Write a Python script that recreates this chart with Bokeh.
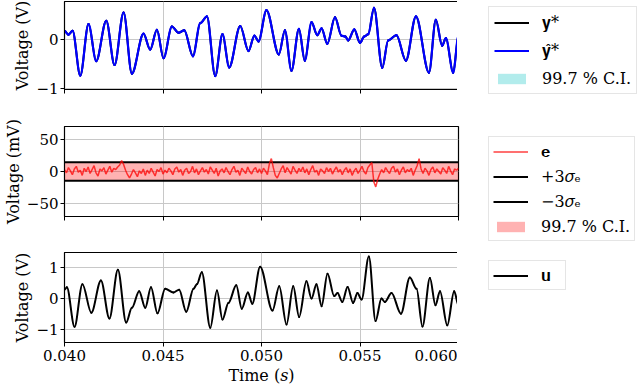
import numpy as np
from bokeh.plotting import figure
from bokeh.layouts import column, row
from bokeh.models import (Legend, LegendItem, FixedTicker, CustomJSTickFormatter,
                          Range1d)
from bokeh.embed import file_html
from bokeh.resources import INLINE

# ---------------- data ----------------
# top panel: output y* and prediction y_hat* (V)
t_y = [0.04000, 0.04020, 0.04041, 0.04080, 0.04122, 0.04161, 0.04212, 0.04254,
       0.04300, 0.04342, 0.04401, 0.04435, 0.04469, 0.04503, 0.04545, 0.04579,
       0.04608, 0.04652, 0.04689, 0.04723, 0.04765, 0.04802, 0.04836, 0.04892,
       0.04934, 0.04964, 0.04985, 0.05025, 0.05088, 0.05119, 0.05152, 0.05190,
       0.05220, 0.05254, 0.05283, 0.05305, 0.05334, 0.05373, 0.05406, 0.05426,
       0.05440, 0.05471, 0.05500, 0.05521, 0.05542, 0.05571, 0.05613, 0.05643,
       0.05685, 0.05733, 0.05784, 0.05850, 0.05885, 0.05917, 0.05936, 0.05973,
       0.06000]
y_hat = [0.19, 0.11, 0.19, -0.74, 0.33, -0.44, 0.40, -0.52,
         0.57, -0.70, 0.13, -0.20, 0.21, -0.38, 0.28, 0.15,
         0.20, -0.34, 0.35, 0.49, -0.75, 0.12, -0.57, 0.29,
         -0.23, 0.09, -0.03, 0.62, -0.30, 0.20, -0.64, 0.23,
         -0.43, 0.37, 0.10, 0.24, -0.08, 0.47, 0.09, 0.07,
         -0.01, 0.22, -0.06, 0.07, 0.12, 0.67, -0.58, -0.01,
         0.10, -0.43, 0.49, -0.68, 0.42, -0.12, 0.04, -0.68,
         0.09]
y_true = list(y_hat)          # indistinguishable from y_hat* at this scale
ci_half_top = 0.02            # 99.7 % C.I. half width (V), hidden under the line

# middle panel: prediction error e (mV), regular sampling
e_mv = [3, -2, 6, 1, -5, 4, 8, -1, 2, -6, 5, 0, 7, -3, 3, 9, -2, -7, 4, 1,
        6, -4, 2, 8, -1, 5, 3, 7, 10, 17, 11, 2, -5, -10, -4, 3, -2, -8, 1, -3,
        4, -6, 2, -3, 5, -1, -7, 3, 0, 6, -4, 2, -2, 5, 1, -5, 4, 7, -1, 3,
        -6, 2, 5, -3, 0, 8, -2, 4, -5, 1, 6, -1, 3, -4, 7, 2, -3, 5, -7, 1,
        4, -2, 6, 0, -5, 3, 8, -1, 2, -6, 5, 1, -3, 7, 0, -4, 3, 6, -2, 4,
        -3, 5, 1, -5, 12, 20, 6, -6, -10, -3, 4, 9, -2, 6, 1, -4, 8, 2, -3, 5,
        0, 7, -2, 4, -5, 3, 9, -1, 2, -6, 4, 1, -3, 6, 0, 5, -4, 2, 7, -1,
        3, -5, 2, 6, -2, 4, -6, 1, 5, -3, 2, 8, 0, -4, 6, 10, 14, -16, -24, -12,
        -4, 3, -2, 6, 1, -3, 5, 8, -1, 4, -5, 2, 7, -2, 3, 0, 5, -6, 2, 9,
        20, 4, -3, 5, 1, -6, 3, 7, -2, 4, 0, -4, 6, 2, -3, 8, 1, -5, 4, 2, 5]
t_start, t_end = 0.040, 0.060
e_t = np.linspace(t_start, t_end, len(e_mv))
sigma3_mv = 14.5              # 3 sigma_e (mV)

# bottom panel: input u (V)
t_u = [0.04000, 0.04012, 0.04051, 0.04091, 0.04136, 0.04185, 0.04228, 0.04271,
       0.04313, 0.04342, 0.04379, 0.04410, 0.04439, 0.04472, 0.04511, 0.04553,
       0.04582, 0.04618, 0.04655, 0.04672, 0.04697, 0.04740, 0.04774, 0.04802,
       0.04832, 0.04872, 0.04900, 0.04931, 0.04953, 0.04993, 0.05056, 0.05090,
       0.05127, 0.05161, 0.05191, 0.05228, 0.05254, 0.05279, 0.05305, 0.05335,
       0.05369, 0.05386, 0.05410, 0.05437, 0.05465, 0.05487, 0.05508, 0.05545,
       0.05579, 0.05609, 0.05626, 0.05660, 0.05708, 0.05753, 0.05787, 0.05817,
       0.05855, 0.05883, 0.05906, 0.05943, 0.05978, 0.06000]
u = [0.29, 0.37, -0.92, 0.47, -0.46, 0.59, -0.65, 0.94,
     -0.78, -0.30, 0.24, -0.30, 0.37, -0.48, 0.32, 0.20,
     0.29, -0.43, 0.32, 0.47, 0.86, -0.95, 0.26, -0.68,
     -0.14, 0.43, -0.33, 0.20, -0.17, 1.04, -0.39, 0.40,
     -0.84, 0.40, -0.60, 0.56, 0.00, 0.47, -0.25, 0.81,
     0.08, 0.18, -0.11, 0.38, -0.14, 0.18, -0.03, 1.37,
     -0.73, 0.00, -0.11, 0.18, -0.49, 0.69, 0.32, -0.91,
     0.67, -0.22, 0.24, -0.87, 0.24, -0.22]

x_ticks = [0.040, 0.045, 0.050, 0.055, 0.060]
y_ticks_top = [-1, 0]
y_ticks_mid = [-50, 0, 50]
y_ticks_bot = [-1, 0, 1]

# ---------------- styling helpers ----------------
FONT = "DejaVu Serif"
FS_TICK = "15px"
FS_LABEL = "16px"
FS_LEG = "16px"
yfmt = CustomJSTickFormatter(code="return (tick < 0 ? '\u2212' : '') + Math.abs(tick).toString();")
xfmt = CustomJSTickFormatter(code="return tick.toFixed(3);")
blank = CustomJSTickFormatter(code="return '';")
NAN = float("nan")


def make_fig(yr, yticks, ylabel, fh, b_top, b_bottom, bottom_axis):
    p = figure(frame_width=394, frame_height=fh,
               x_range=Range1d(t_start, t_end), y_range=Range1d(*yr),
               output_backend="svg", toolbar_location=None,
               min_border_left=58, min_border_right=5,
               min_border_top=b_top, min_border_bottom=b_bottom)
    p.outline_line_color = "black"
    p.outline_line_width = 1.2
    p.outline_line_alpha = 1.0
    p.grid.grid_line_color = "#c8c8c8"
    p.grid.grid_line_width = 1
    for ax in (p.xaxis, p.yaxis):
        ax.axis_line_color = "black"
        ax.major_tick_line_color = "black"
        ax.major_tick_out = 4
        ax.major_tick_in = 0
        ax.minor_tick_line_color = None
        ax.major_label_text_font = FONT
        ax.major_label_text_font_size = FS_TICK
        ax.major_label_text_color = "black"
        ax.major_label_standoff = 2
        ax.axis_label_text_font = FONT
        ax.axis_label_text_font_size = FS_LABEL
        ax.axis_label_text_font_style = "normal"
        ax.axis_label_text_color = "black"
        ax.axis_label_standoff = 1
    p.xaxis.ticker = FixedTicker(ticks=x_ticks)
    p.yaxis.ticker = FixedTicker(ticks=yticks)
    p.yaxis.formatter = yfmt
    p.yaxis.axis_label = ylabel
    if bottom_axis:
        p.xaxis.formatter = xfmt
        p.xaxis.major_label_standoff = 3
        p.xaxis.axis_label_standoff = 2
        p.xaxis.axis_label = "Time (\U0001D460)"
    else:
        p.xaxis.formatter = blank
        p.xaxis.major_label_text_font_size = "1px"
        p.xaxis.major_label_standoff = 0
    return p


def smooth_line(p, t, v, **kw):
    # smooth curve through the read points (horizontal tangent at each read point)
    t = np.asarray(t, dtype=float)
    v = np.asarray(v, dtype=float)
    dt = np.diff(t)
    return p.bezier(x0=t[:-1], y0=v[:-1], x1=t[1:], y1=v[1:],
                    cx0=t[:-1] + dt / 3, cy0=v[:-1],
                    cx1=t[1:] - dt / 3, cy1=v[1:], line_cap="round", **kw)


def make_legend(items, vy, spacing, padding):
    lg = Legend(items=items, location=(25, vy), orientation="vertical")
    lg.label_text_font = FONT
    lg.label_text_font_size = FS_LEG
    lg.label_text_color = "black"
    lg.glyph_width = 35
    lg.glyph_height = 13
    lg.label_height = 20
    lg.label_standoff = 13
    lg.spacing = spacing
    lg.padding = padding
    lg.margin = 0
    lg.border_line_color = "#cccccc"
    lg.border_line_width = 1
    lg.background_fill_color = "white"
    lg.background_fill_alpha = 1.0
    return lg


# ---------------- top panel ----------------
p1 = make_fig((-1.03, 0.80), y_ticks_top, "Voltage (V)", 88, 1, 18, False)
ci_lo = [v - ci_half_top for v in y_hat]
ci_hi = [v + ci_half_top for v in y_hat]
p1.varea(x=t_y, y1=ci_lo, y2=ci_hi, fill_color="#00bfbf", fill_alpha=0.3)
smooth_line(p1, t_y, y_true, line_color="black", line_width=2)
smooth_line(p1, t_y, y_hat, line_color="#0000ff", line_width=2.2)

# ---------------- middle panel ----------------
p2 = make_fig((-70, 70), y_ticks_mid, "Voltage (mV)", 90, 19, 17, False)
p2.varea(x=[t_start, t_end], y1=[-sigma3_mv, -sigma3_mv], y2=[sigma3_mv, sigma3_mv],
         fill_color="red", fill_alpha=0.3)
p2.line([t_start, t_end], [sigma3_mv, sigma3_mv], line_color="black", line_width=2)
p2.line([t_start, t_end], [-sigma3_mv, -sigma3_mv], line_color="black", line_width=2)
p2.line(e_t, e_mv, line_color="red", line_alpha=0.75, line_width=1.5)

# ---------------- bottom panel ----------------
p3 = make_fig((-1.43, 1.50), y_ticks_bot, "Voltage (V)", 90, 19, 45, True)
smooth_line(p3, t_u, u, line_color="black", line_width=2)

plots = column(p1, p2, p3, spacing=0)

# ---------------- legend column ----------------
LEG_H = (1 + 88 + 18) + (19 + 90 + 17) + (19 + 90 + 45)
pl = figure(width=175, height=LEG_H, x_range=Range1d(0, 1), y_range=Range1d(0, 1),
            output_backend="svg", toolbar_location=None,
            x_axis_location=None, y_axis_location=None,
            min_border=0, min_border_left=0, min_border_right=0,
            min_border_top=0, min_border_bottom=0)
pl.outline_line_color = None
pl.grid.visible = False

# placeholder renderers (no visible marks) that carry the legend styles
l_ytrue = pl.line([NAN], [NAN], line_color="black", line_width=2)
l_yhat = pl.line([NAN], [NAN], line_color="#0000ff", line_width=2)
l_ci1 = pl.varea(x=[NAN], y1=[NAN], y2=[NAN], fill_color="#00bfbf", fill_alpha=0.3)
l_e = pl.line([NAN], [NAN], line_color="red", line_alpha=0.75, line_width=1.5)
l_up = pl.line([NAN], [NAN], line_color="black", line_width=2)
l_lo = pl.line([NAN], [NAN], line_color="black", line_width=2)
l_ci2 = pl.varea(x=[NAN], y1=[NAN], y2=[NAN], fill_color="red", fill_alpha=0.3)
l_u = pl.line([NAN], [NAN], line_color="black", line_width=2)

pl.add_layout(make_legend([
    LegendItem(label="\U0001D432*", renderers=[l_ytrue]),
    LegendItem(label="\U0001D432\u0302*", renderers=[l_yhat]),
    LegendItem(label="99.7 % C.I.", renderers=[l_ci1]),
], 293, 8, 5))
pl.add_layout(make_legend([
    LegendItem(label="\U0001D41E", renderers=[l_e]),
    LegendItem(label="+3\U0001D70E\u2091", renderers=[l_up]),
    LegendItem(label="\u22123\U0001D70E\u2091", renderers=[l_lo]),
    LegendItem(label="99.7 % C.I.", renderers=[l_ci2]),
], 146, 5, 4))
pl.add_layout(make_legend([
    LegendItem(label="\U0001D42E", renderers=[l_u]),
], 97, 0, 4))

layout = row(plots, pl, spacing=0)
open("out.html", "w").write(file_html(layout, INLINE))
